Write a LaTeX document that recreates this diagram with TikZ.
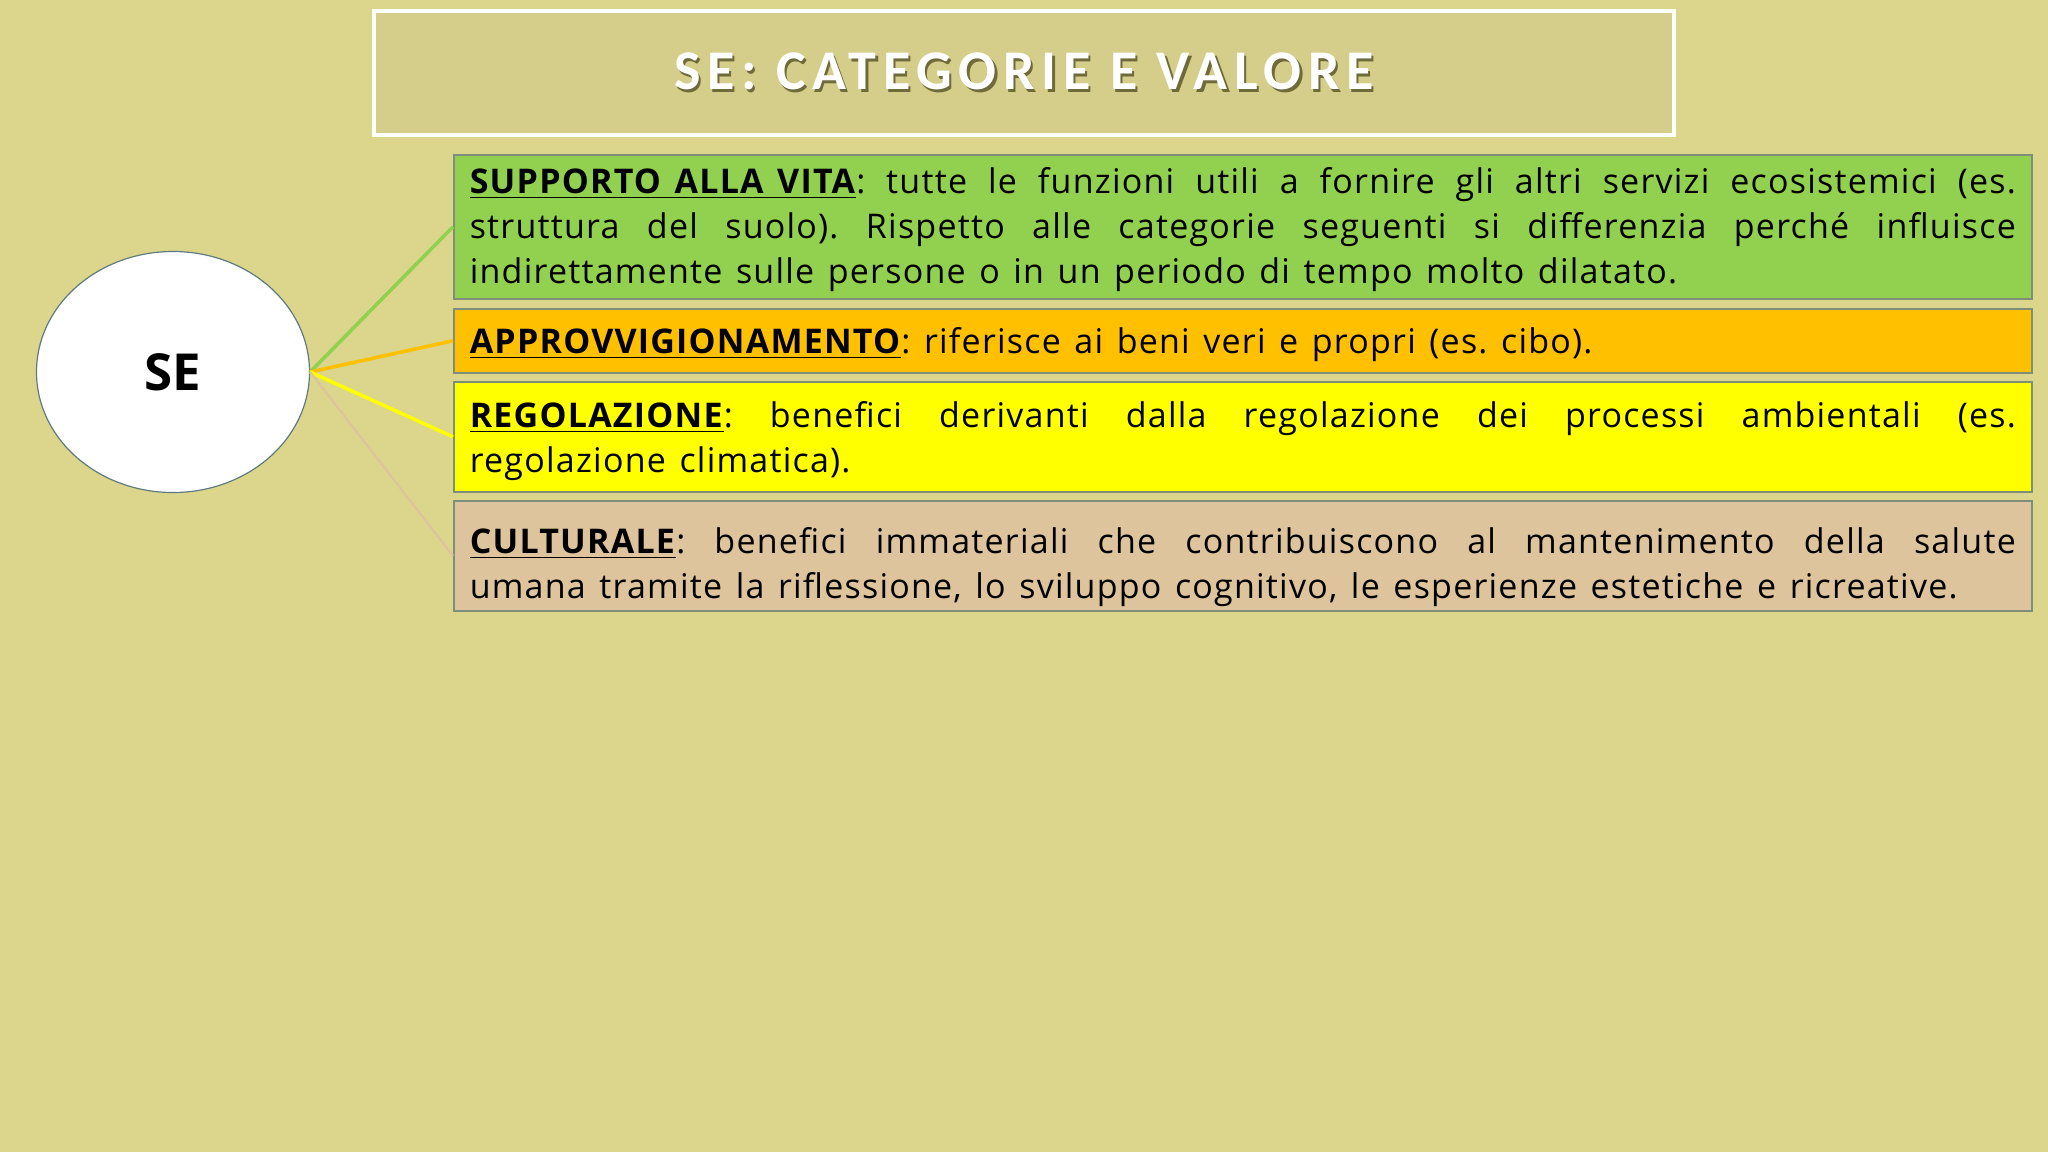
\documentclass[tikz,border=0pt]{standalone}
\usepackage{fontspec}
\setmainfont{Open Sans}[LetterSpace=3.6, WordSpace=1.35]
\newfontfamily\titolofont{Carlito}
\usepackage{xcolor}
\usetikzlibrary{positioning}
\usetikzlibrary{shapes.geometric}
\definecolor{sfondo}{HTML}{DCD58C}
\definecolor{fondotitolo}{HTML}{D4CE8A}
\definecolor{ombra}{HTML}{6E6A3A}
\definecolor{verde}{HTML}{92D050}
\definecolor{arancio}{HTML}{FFC000}
\definecolor{giallo}{HTML}{FFFF00}
\definecolor{sabbia}{HTML}{DEC49C}
\definecolor{bordo}{HTML}{7E8E7A}
\definecolor{bordoellisse}{HTML}{5F7A80}
\frenchspacing

\begin{document}
\begin{tikzpicture}[x=0.5pt,y=-0.5pt,
    casella/.style={anchor=north west, draw=bordo, line width=0.8pt, inner xsep=8pt, inner ysep=0pt,
        font=\fontsize{17}{22.5}\selectfont},
    ramo/.style={line width=1.8pt}]
            % background and page size
            \fill[sfondo] (0,0) rectangle (2048,1152);
            \useasboundingbox (0,0) rectangle (2048,1152);
            % title
            \node[draw=white, line width=2pt, fill=fondotitolo, minimum width=650pt, minimum height=62pt,
                text=white, font=\titolofont\fontsize{28}{30}\selectfont\bfseries\addfontfeatures{LetterSpace=12}]
                (titolo) at (1024,73)
                {\rlap{\kern1.2pt\raisebox{-1.2pt}{\color{ombra}SE: CATEGORIE E VALORE}}SE: CATEGORIE E VALORE};
            % central ellipse
            \node[ellipse, draw=bordoellisse, line width=0.6pt, fill=white, minimum width=136.5pt, minimum height=120.5pt,
                font=\fontsize{25.5}{30}\selectfont\bfseries\addfontfeatures{LetterSpace=0}] (se) at (173,372) {SE};
            % the four categories
            \node[casella, fill=verde] (supporto) at (453,154) {\parbox[c][72pt][t]{773pt}{\rule{0pt}{19.5pt}%
                \underline{\textbf{SUPPORTO ALLA VITA}}: tutte le funzioni utili a fornire gli altri servizi ecosistemici (es.\linebreak
                struttura del suolo). Rispetto alle categorie seguenti si differenzia perché influisce\linebreak
                indirettamente sulle persone o in un periodo di tempo molto dilatato.}};
            \node[casella, fill=arancio] (approv) at (453,308) {\parbox[c][32pt][t]{773pt}{\rule{0pt}{22.5pt}%
                \underline{\textbf{APPROVVIGIONAMENTO}}: riferisce ai beni veri e propri (es. cibo).}};
            \node[casella, fill=giallo] (regolazione) at (453,381) {\parbox[c][55pt][t]{773pt}{\rule{0pt}{23pt}%
                \underline{\textbf{REGOLAZIONE}}: benefici derivanti dalla regolazione dei processi ambientali (es.\linebreak
                regolazione climatica).}};
            \node[casella, fill=sabbia] (culturale) at (453,500) {\parbox[c][55pt][t]{773pt}{\rule{0pt}{26.5pt}%
                \underline{\textbf{CULTURALE}}: benefici immateriali che contribuiscono al mantenimento della salute\linebreak
                umana tramite la riflessione, lo sviluppo cognitivo, le esperienze estetiche e ricreative.}};
            % connectors
            \draw[ramo, verde] (se.east) -- (supporto.west);
            \draw[ramo, arancio] (se.east) -- (approv.west);
            \draw[ramo, giallo] (se.east) -- (regolazione.west);
            \draw[ramo, sabbia, line width=1.1pt] (se.east) -- (culturale.west);
\end{tikzpicture}
\end{document}
